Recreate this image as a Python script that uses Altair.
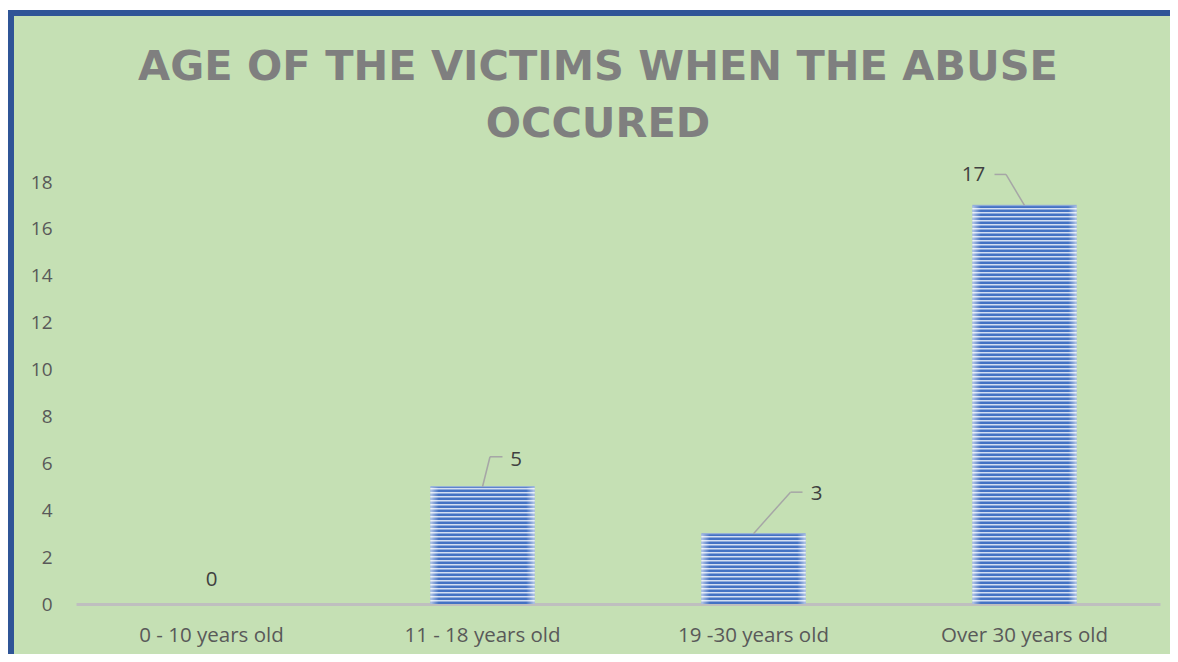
import altair as alt
import pandas as pd

# ---- data ----
categories = ["0 - 10 years old", "11 - 18 years  old", "19 -30 years  old", "Over 30 years old"]
values = [0, 5, 3, 17]
y_ticks = [0, 2, 4, 6, 8, 10, 12, 14, 16, 18]
title_lines = ["AGE OF THE VICTIMS WHEN THE ABUSE", "OCCURED"]

df = pd.DataFrame({"category": categories, "value": values})
title_df = pd.DataFrame({"title": ["\n".join(title_lines)]})

# ---- style ----
PLOT_W, PLOT_H = 1084, 422
Y_MAX = 18
PX = Y_MAX / PLOT_H            # data units per pixel
GREEN = "#C5E0B4"
BORDER = "#2F5597"
BAR_DARK = "#4472C4"
BAR_LIGHT = "#D3DEF2"
STRIPE_PERIOD = 4 * PX
STRIPE_DARK = 2.5 * PX
LABEL_FONT = "Open Sans"

# label offsets (pixels, relative to bar-top centre)
label_off = {
    categories[0]: (0, -24),
    categories[1]: (33.5, -27),
    categories[2]: (63, -40),
    categories[3]: (-51, -30),
}
# leader line segments (pixels, relative to bar-top centre)
leaders = {
    categories[1]: [(0, 0, 7.5, -30), (7.5, -30, 20, -30)],
    categories[2]: [(0, 0, 37, -41.5), (37, -41.5, 49, -41.5)],
    categories[3]: [(0, 0, -18.5, -31), (-18.5, -31, -30, -31)],
}

x_enc = alt.X(
    "category:N",
    sort=categories,
    scale=alt.Scale(paddingInner=0.616, paddingOuter=0.308),
    axis=alt.Axis(
        title=None, labelAngle=0, ticks=False, tickSize=0, labelPadding=21,
        labelFont=LABEL_FONT, labelFontSize=20.5, labelColor="#595959",
        domain=True, domainColor="#BFBFBF", domainWidth=3, grid=False,
    ),
)
y_scale = alt.Scale(domain=[0, Y_MAX], nice=False)
y_axis = alt.Axis(
    title=None, values=y_ticks, ticks=False, tickSize=0, labelPadding=24,
    labelFont=LABEL_FONT, labelFontSize=19, labelColor="#595959",
    domain=False, grid=False,
)
y_enc = alt.Y("value:Q", scale=y_scale, axis=y_axis)

base = alt.Chart(df)
layers = []

# decorative frame (white strip, blue border)
layers.append(base.mark_rect(color="white").encode(
    x=alt.value(-80), x2=alt.value(1200), y=alt.value(-180), y2=alt.value(-172)))
layers.append(base.mark_rect(color=BORDER).encode(
    x=alt.value(-68), x2=alt.value(1200), y=alt.value(-172), y2=alt.value(-166)))
layers.append(base.mark_rect(color=BORDER).encode(
    x=alt.value(-68), x2=alt.value(-62), y=alt.value(-172), y2=alt.value(600)))

# chart title
layers.append(
    alt.Chart(title_df).mark_text(
        font="DejaVu Sans", fontSize=41.5, fontWeight="bold", color="#7F7F7F",
        lineBreak="\n", lineHeight=57, align="center", baseline="alphabetic",
    ).encode(text="title:N", x=alt.value(522), y=alt.value(-102))
)

# bars (light base)
layers.append(base.mark_bar(color=BAR_LIGHT).encode(x=x_enc, y=y_enc))

# horizontal stripes inside the bars
stripes = (
    base.transform_calculate(s=f"sequence(0, datum.value, {STRIPE_PERIOD})")
    .transform_flatten(["s"])
    .transform_calculate(s2=f"min(datum.s + {STRIPE_DARK}, datum.value)")
    .mark_rect(color=BAR_DARK)
    .encode(x=x_enc, y=alt.Y("s:Q", scale=y_scale, axis=y_axis), y2="s2:Q")
)
layers.append(stripes)

# soft light edges on the bars
edge = alt.LinearGradient(
    gradient="linear", x1=0, x2=1, y1=0, y2=0,
    stops=[
        alt.GradientStop(offset=0, color="rgba(255,255,255,0.6)"),
        alt.GradientStop(offset=0.08, color="rgba(255,255,255,0)"),
        alt.GradientStop(offset=0.92, color="rgba(255,255,255,0)"),
        alt.GradientStop(offset=1, color="rgba(255,255,255,0.6)"),
    ],
)
layers.append(
    base.transform_filter(alt.datum.value > 0)
    .mark_bar(color=edge)
    .encode(x=x_enc, y=y_enc)
)
# lighter top edge of each bar
layers.append(
    base.transform_filter(alt.datum.value > 0)
    .mark_tick(color="#8FAADC", thickness=1.5, size=104, orient="horizontal")
    .encode(x=x_enc, y=y_enc)
)

# leader lines
for cat, segs in leaders.items():
    for (x1, y1, x2, y2) in segs:
        layers.append(
            base.transform_filter(alt.datum.category == cat)
            .mark_rule(color="#A6A6A6", strokeWidth=1.5,
                       xOffset=x1, yOffset=y1, x2Offset=x2, y2Offset=y2)
            .encode(x=x_enc, x2=alt.X2("category:N"), y=y_enc, y2=alt.Y2("value:Q"))
        )

# data labels
for cat, (dx, dy) in label_off.items():
    layers.append(
        base.transform_filter(alt.datum.category == cat)
        .mark_text(dx=dx, dy=dy, font=LABEL_FONT, fontSize=20.5, color="#404040",
                   baseline="middle", align="center")
        .encode(x=x_enc, y=y_enc, text=alt.Text("value:Q", format="d"))
    )

chart = alt.layer(*layers).properties(
    width=PLOT_W,
    height=PLOT_H,
    autosize=alt.AutoSizeParams(type="none"),
    padding={"left": 68, "top": 174, "right": 10, "bottom": 50},
    background=GREEN,
).configure_view(stroke=None)

chart.save("out.html", embed_options={"renderer": "svg", "actions": False})
